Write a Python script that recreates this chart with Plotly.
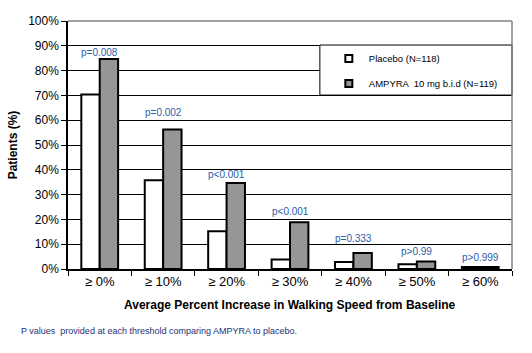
import plotly.graph_objects as go

categories = ["≥ 0%", "≥ 10%", "≥ 20%", "≥ 30%", "≥ 40%", "≥ 50%", "≥ 60%"]
placebo = [70.4, 35.8, 15.2, 3.8, 2.8, 1.9, 0.8]
ampyra = [84.7, 56.3, 34.7, 18.9, 6.5, 3.0, 0.8]
p_labels = ["p=0.008", "p=0.002", "p<0.001", "p<0.001", "p=0.333", "p>0.99", "p>0.999"]
y_ticks = [0, 10, 20, 30, 40, 50, 60, 70, 80, 90, 100]
placebo_name = "Placebo (N=118)"
ampyra_name = "AMPYRA  10 mg b.i.d (N=119)"

FONT = "Liberation Sans, Arial, sans-serif"
PLACEBO_COLOR = "white"
AMPYRA_COLOR = "#969696"

fig = go.Figure()
fig.add_trace(go.Bar(x=categories, y=placebo, name=placebo_name, showlegend=False,
                     marker=dict(color=PLACEBO_COLOR, line=dict(color="black", width=2))))
fig.add_trace(go.Bar(x=categories, y=ampyra, name=ampyra_name, showlegend=False,
                     marker=dict(color=AMPYRA_COLOR, line=dict(color="black", width=2))))
# legend entries with small square symbols
for nm, col, grp in [(placebo_name, PLACEBO_COLOR, "a"), (ampyra_name, AMPYRA_COLOR, "b")]:
    fig.add_trace(go.Scatter(x=[None], y=[None], mode="markers", name=nm, legendgroup=grp,
                             marker=dict(symbol="square", size=7, color=col,
                                         line=dict(color="black", width=2))))

label_heights = [87.1, 63.0, 38.0, 23.3, 12.3, 6.9, 4.8]
for cat, lab, h in zip(categories, p_labels, label_heights):
    fig.add_annotation(x=cat, y=h, text=lab, showarrow=False,
                       font=dict(family=FONT, size=10, color="#2a5caa"),
                       xanchor="center", yanchor="middle")

fig.add_annotation(xref="paper", yref="paper", x=(289 - 66) / 446, y=-(305 - 268.7) / 247.7,
                   text="<b>Average Percent Increase in Walking Speed from Baseline</b>",
                   showarrow=False, font=dict(family=FONT, size=12, color="black"),
                   xanchor="center", yanchor="middle")
fig.add_annotation(xref="paper", yref="paper", x=(17 - 66) / 446, y=-(331 - 268.7) / 247.7,
                   text="P values  provided at each threshold comparing AMPYRA to placebo.",
                   showarrow=False, font=dict(family=FONT, size=9, color="#1e2f78"),
                   xanchor="left", yanchor="middle")

# legend box, gray top border and right border
fig.add_shape(type="rect", xref="paper", yref="paper",
              x0=(319 - 66) / 446, x1=1, y0=(268.7 - 95) / 247.7, y1=(268.7 - 45) / 247.7,
              line=dict(color="black", width=1), fillcolor="white", layer="above")
fig.add_shape(type="line", xref="paper", yref="paper", x0=0, x1=1, y0=1, y1=1,
              line=dict(color="#808080", width=1.5), layer="above")
fig.add_shape(type="line", xref="paper", yref="paper", x0=1, x1=1, y0=0, y1=1,
              line=dict(color="#808080", width=1.5), layer="above")

fig.update_layout(
    width=532, height=353,
    margin=dict(l=66, r=20, t=21, b=84),
    paper_bgcolor="white", plot_bgcolor="white",
    barmode="group", bargap=0.42, bargroupgap=0,
    font=dict(family=FONT, size=12, color="black"),
    showlegend=True,
    legend=dict(x=(328 - 66) / 446, y=(268.7 - 44) / 247.7, xanchor="left", yanchor="top",
                bgcolor="rgba(0,0,0,0)", borderwidth=0, tracegroupgap=6,
                font=dict(family=FONT, size=9.5, color="black"), traceorder="grouped"),
    xaxis=dict(showline=True, linecolor="black", linewidth=1.5, ticks="outside",
               tickson="boundaries", ticklen=5, tickcolor="black",
               tickfont=dict(family=FONT, size=13), showgrid=False),
    yaxis=dict(range=[0, 100], tickmode="array", tickvals=y_ticks,
               ticktext=[f"{v}%" for v in y_ticks], showline=True,
               linecolor="black", linewidth=1.5, ticks="outside", ticklen=5,
               tickcolor="black", showgrid=True, gridcolor="black", gridwidth=1,
               tickfont=dict(family=FONT, size=12), zeroline=False,
               title=dict(text="<b>Patients (%)</b>", font=dict(family=FONT, size=12), standoff=8)),
)

fig.write_html("out.html")
